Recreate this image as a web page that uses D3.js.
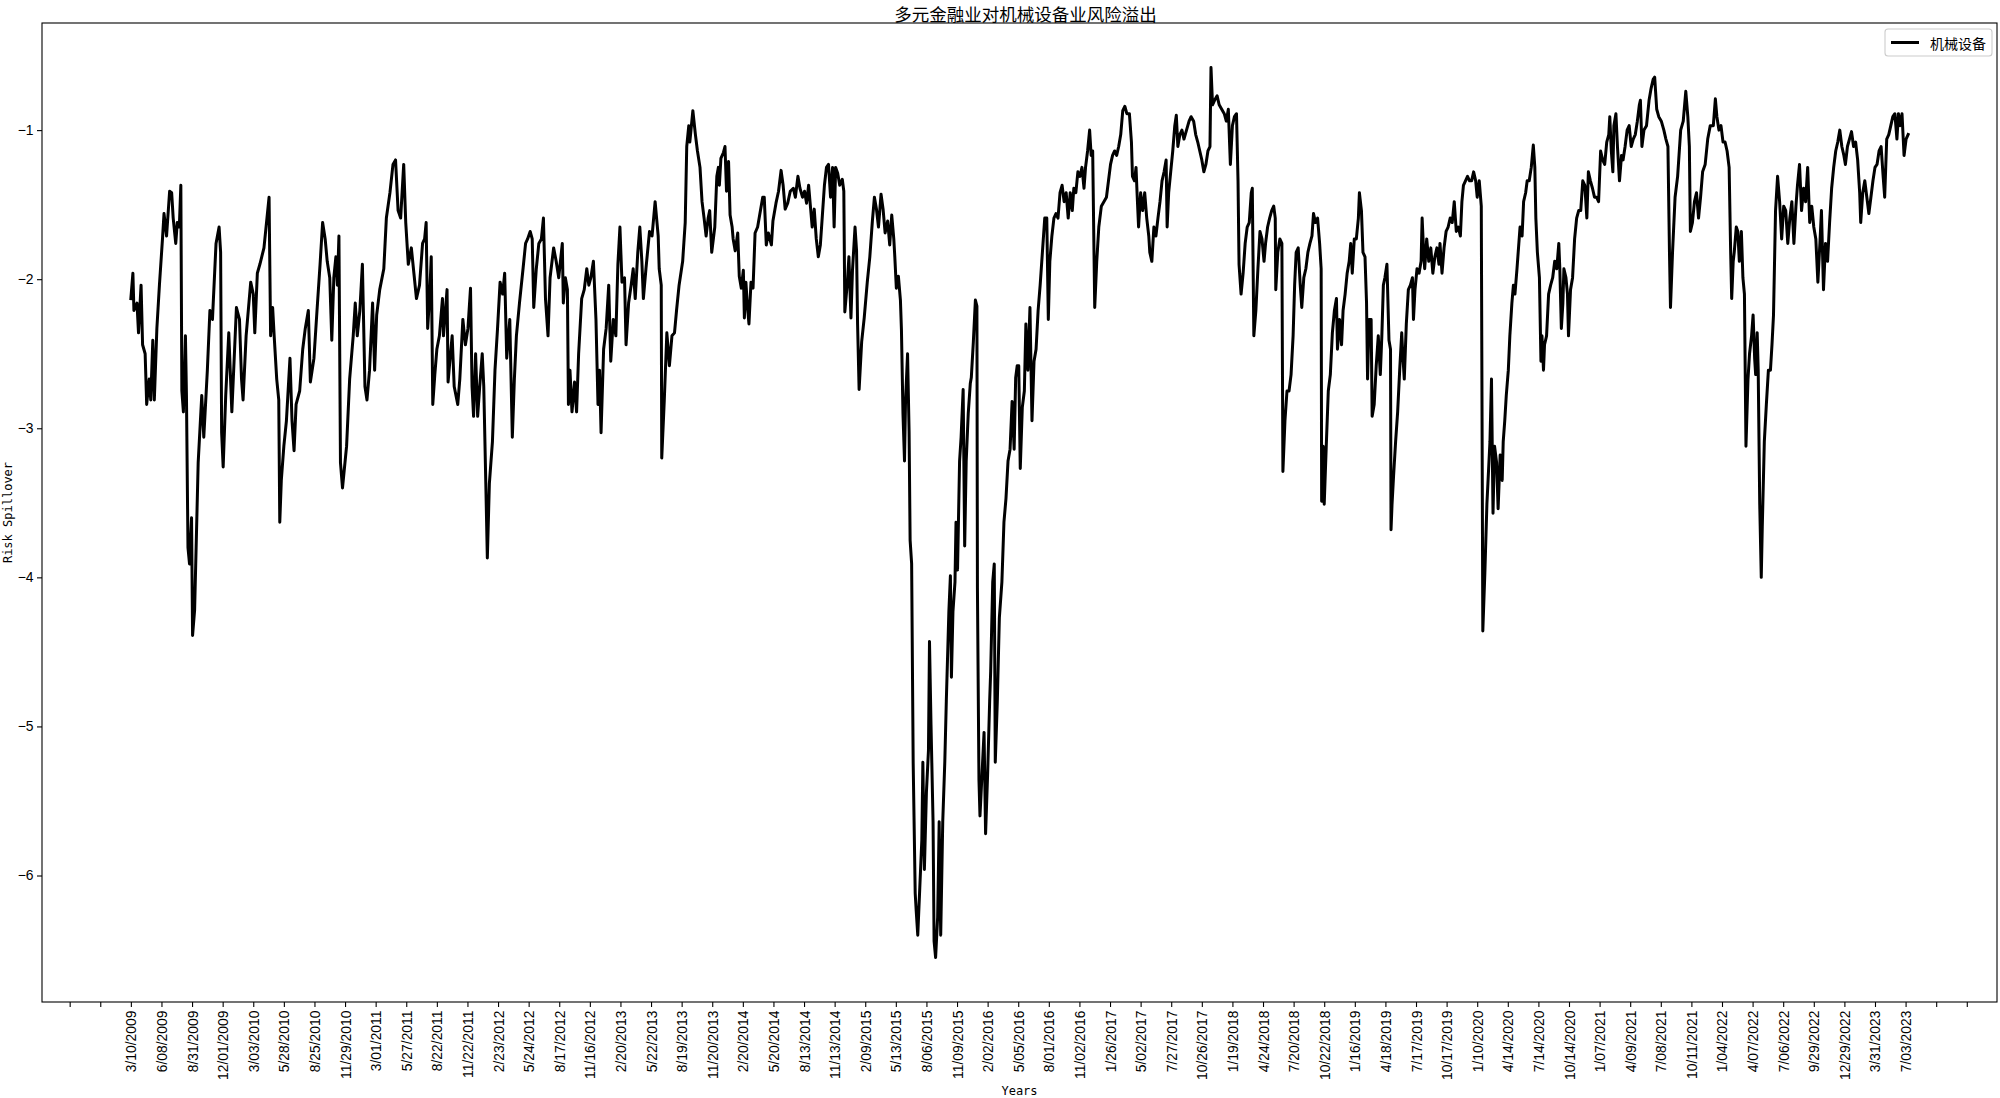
<!DOCTYPE html>
<html><head><meta charset="utf-8">
<script src="https://cdn.jsdelivr.net/npm/d3@7"></script>
<style>body{margin:0;background:#fff}svg{display:block}</style>
</head><body><svg id="c" width="2000" height="1098"></svg>
<script>
const titleText = "多元金融业对机械设备业风险溢出";
const seriesName = "机械设备";
const xLabel = "Years";
const yLabel = "Risk Spillover";

// trading-day index of each sampled point
const dayIndex = [0,4,6,12,15,20,23,28,31,36,39,43,46,51,56,62,65,70,76,80,83,88,91,95,98,100,103,107,109,112,115,119,121,125,132,139,143,150,155,160,167,173,176,178,181,186,192,198,207,213,217,220,226,235,240,243,248,253,261,271,274,278,281,286,290,292,295,300,305,312,316,320,324,331,337,342,348,352,359,365,371,376,381,385,390,394,398,402,405,408,411,415,423,429,436,440,444,449,454,459,463,468,474,478,482,488,496,501,508,514,519,524,529,535,539,544,550,555,560,
566,572,576,579,582,586,589,592,596,600,605,611,613,620,622,626,630,634,641,645,651,656,661,666,669,672,676,680,684,689,692,696,699,703,709,714,719,724,729,733,737,743,748,752,756,762,769,774,778,783,787,790,795,800,805,809,813,818,822,829,834,839,846,848,852,856,858,861,865,870,874,878,884,889,894,898,902,907,912,916,919,922,927,932,937,941,946,951,955,959,963,968,971,976,981,985,989,994,998,1002,1005,1010,1017,1022,1028,1034,1036,1040,1041,1046,1051,1056,1061,1066,1070,1075,1082,1087,1090,1094,1096,1102,1107,1111,1116,1120,1124,1128,1132,1135,1139,1145,1149,1152,
1154,1157,1162,1165,1168,1172,1175,1179,1181,1185,1190,1193,1197,1201,1203,1206,1209,1212,1216,1220,1224,1229,1233,1239,1242,1246,1250,1256,1259,1265,1270,1275,1279,1283,1288,1293,1299,1303,1308,1312,1317,1321,1325,1329,1333,1336,1340,1344,1348,1352,1356,1360,1364,1368,1372,1376,1379,1382,1386,1390,1395,1398,1400,1405,1408,1412,1415,1420,1423,1425,1428,1433,1438,1444,1449,1454,1458,1462,1466,1471,1475,1479,1484,1488,1492,1496,1498,1501,1505,1509,1511,1514,1517,1519,1523,1526,1528,1531,1534,1538,1540,1543,1547,1551,1553,1556,1560,1564,1566,1569,1573,1575,1578,1582,1585,1588,1592,1596,1599,1604,1607,1609,1612,1616,1618,1621,1625,1628,1632,1635,1638,1642,1646,1648,1652,1656,1659,1660,1663,1665,1669,1673,1676,1680,1684,1686,1690,1693,1695,1699,1703,1708,1712,1716,1720,1724,1728,1732,1735,1738,
1741,1744,1748,1752,1755,1759,1763,1767,1771,1775,1779,1783,1788,1792,1796,1799,1802,1806,1810,1814,1818,1822,1826,1830,1834,1838,1842,1846,1849,1853,1857,1861,1865,1869,1872,1876,1880,1883,1886,1890,1894,1898,1903,1908,1913,1917,1921,1925,1929,1933,1937,1941,1945,1949,1953,1958,1962,1964,1968,1971,1973,1976,1980,1984,1988,1992,1996,1998,2002,2006,2010,2014,2018,2022,2026,2030,2032,2035,2039,2043,2047,2050,2053,2057,2061,2065,2070,2075,2079,2084,2088,2092,2096,2100,2104,2108,2112,2116,2118,2121,2125,2130,2134,2139,2144,2148,2152,2156,2160,2164,2168,2171,2173,2177,2181,2185,2189,2193,2197,2199,2202,2206,2210,2214,2218,2222,2225,2229,2233,2237,2241,2244,2245,2249,2253,2257,2259,2263,2267,2271,2275,2279,2282,2285,2289,2293,2296,2300,2304,2308,2312,2316,2319,2323,2327,
2331,2334,2335,2338,2340,2344,2348,2352,2356,2360,2364,2366,2370,2374,2377,2381,2385,2389,2392,2395,2399,2403,2407,2409,2413,2416,2420,2423,2425,2428,2432,2434,2438,2442,2446,2450,2453,2456,2459,2463,2467,2470,2471,2473,2476,2480,2484,2488,2492,2494,2497,2501,2505,2509,2513,2515,2518,2522,2526,2530,2532,2535,2537,2541,2545,2549,2553,2557,2561,2565,2567,2571,2575,2579,2583,2587,2591,2595,2599,2603,2607,2610,2613,2617,2621,2625,2629,2633,2637,2640,2644,2648,2651,2655,2659,2661,2665,2668,2671,2674,2678,2681,2685,2689,2691,2694,2697,2701,2704,2708,2711,2714,2718,2721,2724,2728,2731,2735,2738,2742,2746,2750,2753,2755,2758,2762,2765,2767,2770,2772,2776,2780,2784,2788,2792,2796,2800,2802,2805,2808,2810,2814,2817,2819,2823,2827,2831,2835,2839,2843,2847,2851,2855,2858,2862,2866,2870,2874,2878,2882,2886,2890,2894,2898,2900,2903,2906,2908,2912,2915,
2919,2923,2926,2930,2934,2938,2942,2946,2950,2954,2958,2960,2963,2967,2972,2977,2981,2985,2988,2992,2996,3001,3006,3010,3014,3017,3019,3023,3028,3033,3039,3044,3049,3053,3056,3058,3062,3066,3070,3074,3078,3082,3087,3092,3097,3103,3107,3110,3114,3118,3122,3126,3130,3134,3137,3139,3142,3144,3148,3151,3154,3158,3161,3164,3167,3171,3174,3178,3181,3184,3186,3189,3191,3194,3197,3199,3203,3207,3211,3215,3218,3221,3225,3229,3233,3237,3241,3245,3249,3253,3257,3261,3265,3268,3272,3276,3280,3284,3288,3292,3296,3300,3304,3308,3312,3315,3319,3323,3327,3331,3335,3339,3343,3347,3351,3355,3359,3362,3366,3370,3374,3378,3382,3386,3390,3392,3396,3400,3404,3408,3412,3416,3420,3424,3428,3432,3436,3439,3443,3447,3451,3455,3459,3463,3466,3469,3473,3477,3481,3485];

// risk spillover value at each sampled point
const spillover = [-2.13,-1.96,-2.21,-2.16,-2.36,-2.04,-2.44,-2.50,-2.84,-2.67,-2.81,-2.41,-2.81,-2.33,-2.04,-1.73,-1.56,-1.71,-1.41,-1.42,-1.59,-1.76,-1.62,-1.65,-1.37,-2.75,-2.89,-2.38,-2.78,-3.80,-3.91,-3.60,-4.39,-4.22,-3.23,-2.78,-3.06,-2.61,-2.21,-2.27,-1.76,-1.65,-1.82,-3.03,-3.26,-2.78,-2.36,-2.89,-2.19,-2.27,-2.67,-2.81,-2.38,-2.02,-2.10,-2.36,-1.96,-1.90,-1.79,-1.45,-2.38,-2.19,-2.38,-2.67,-2.81,-3.63,-3.35,-3.12,-2.95,-2.53,-2.95,-3.15,-2.84,-2.75,-2.47,-2.33,-2.21,-2.69,-2.53,-2.21,-1.90,-1.62,-1.73,-1.88,-1.99,-2.41,-1.99,-1.85,-2.04,-1.71,-3.23,-3.40,-3.12,-2.67,-2.38,-2.16,-2.38,-2.21,-1.90,-2.72,-2.81,-2.61,-2.16,-2.61,-2.24,-2.07,-1.93,-1.59,-1.42,-1.23,-1.20,-1.54,-1.59,-1.23,-1.62,-1.90,-1.79,-1.96,-2.13,
-2.04,-1.76,-1.73,-1.62,-2.33,-2.10,-1.85,-2.84,-2.64,-2.47,-2.38,-2.13,-2.38,-2.07,-2.69,-2.53,-2.38,-2.72,-2.84,-2.67,-2.27,-2.44,-2.33,-2.06,-2.72,-2.92,-2.50,-2.92,-2.72,-2.50,-2.72,-3.37,-3.87,-3.37,-3.09,-2.61,-2.33,-2.02,-2.10,-1.96,-2.53,-2.27,-3.06,-2.67,-2.38,-2.16,-1.93,-1.76,-1.73,-1.68,-1.73,-2.19,-1.93,-1.76,-1.73,-1.59,-2.13,-2.38,-1.99,-1.79,-1.88,-1.99,-1.76,-2.16,-1.99,-2.07,-2.84,-2.61,-2.89,-2.69,-2.89,-2.50,-2.13,-2.07,-1.93,-2.04,-1.99,-1.88,-2.27,-2.84,-2.61,-3.03,-2.47,-2.33,-2.04,-2.55,-2.27,-2.38,-1.90,-1.65,-2.02,-1.99,-2.44,-2.16,-2.04,-1.93,-2.13,-1.82,-1.65,-1.88,-2.13,-1.93,-1.68,-1.71,-1.48,-1.71,-1.93,-2.04,-3.20,-2.81,-2.36,-2.58,-2.38,-2.36,-2.21,-2.04,-1.88,-1.62,-1.11,-0.97,-1.08,-0.87,-1.03,-1.14,-1.25,-1.48,-1.59,-1.71,-1.59,-1.54,-1.82,-1.65,-1.31,-1.25,
-1.37,-1.19,-1.15,-1.11,-1.41,-1.21,-1.57,-1.65,-1.73,-1.81,-1.69,-1.98,-2.06,-1.94,-2.26,-2.02,-2.18,-2.30,-2.02,-2.06,-1.69,-1.65,-1.57,-1.45,-1.45,-1.77,-1.69,-1.77,-1.61,-1.49,-1.41,-1.27,-1.37,-1.53,-1.49,-1.41,-1.39,-1.45,-1.31,-1.39,-1.45,-1.41,-1.49,-1.37,-1.53,-1.65,-1.53,-1.73,-1.85,-1.77,-1.57,-1.37,-1.25,-1.23,-1.45,-1.25,-1.65,-1.25,-1.29,-1.37,-1.33,-1.41,-2.22,-2.02,-1.85,-2.26,-1.94,-1.65,-1.81,-2.30,-2.74,-2.42,-2.26,-2.02,-1.85,-1.61,-1.45,-1.53,-1.65,-1.43,-1.53,-1.69,-1.61,-1.77,-1.57,-1.73,-1.85,-2.06,-1.98,-2.14,-2.34,-2.90,-3.22,-2.82,-2.50,-3.02,-3.75,-3.91,-5.24,-6.12,-6.24,-6.40,-6.08,-5.76,-5.24,-5.96,-5.44,-5.16,-4.43,-4.99,-5.64,-6.44,-6.55,-6.28,-5.64,-6.40,-5.64,-5.24,-4.83,-4.23,-3.99,-4.67,-4.23,-4.03,-3.63,-3.95,-3.22,-3.06,-2.74,-3.79,-3.22,-2.90,-2.70,-2.66,-2.42,-2.14,-2.18,-4.07,-5.36,-5.60,-5.32,-5.04,-5.72,-5.32,-4.83,-4.63,-4.03,-3.91,-5.24,-4.83,-4.27,-4.03,-3.63,-3.47,-3.22,-3.14,-2.82,-3.14,-2.66,-2.58,
-2.58,-3.27,-2.86,-2.75,-2.30,-2.61,-2.19,-2.95,-2.55,-2.47,-2.21,-2.04,-1.79,-1.59,-1.59,-2.27,-1.88,-1.71,-1.59,-1.56,-1.59,-1.42,-1.37,-1.48,-1.42,-1.59,-1.42,-1.54,-1.39,-1.42,-1.28,-1.31,-1.25,-1.39,-1.25,-1.14,-1.00,-1.17,-1.14,-2.19,-1.88,-1.65,-1.51,-1.48,-1.45,-1.34,-1.23,-1.17,-1.14,-1.17,-1.11,-1.03,-0.87,-0.84,-0.89,-0.89,-1.08,-1.31,-1.34,-1.25,-1.42,-1.65,-1.42,-1.54,-1.42,-1.59,-1.71,-1.82,-1.88,-1.65,-1.71,-1.59,-1.48,-1.34,-1.28,-1.20,-1.65,-1.42,-1.28,-1.14,-0.97,-0.90,-1.11,-1.03,-1.00,-1.06,-1.00,-0.94,-0.91,-0.94,-1.03,-1.08,-1.14,-1.20,-1.28,-1.23,-1.14,-1.11,-0.58,-0.83,-0.80,-0.77,-0.83,-0.86,-0.89,-0.94,-0.86,-1.23,-0.97,-0.91,-0.89,-1.34,-1.90,-2.10,-1.96,-1.76,-1.65,-1.62,-1.42,-1.39,-2.38,-2.21,-1.93,-1.68,-1.73,-1.88,-1.76,-1.65,-1.59,-1.54,-1.51,-1.59,-2.07,-1.82,-1.73,-1.76,-3.29,-2.95,-2.75,-2.75,-2.64,-2.38,-2.04,-1.82,-1.79,-2.04,-2.19,-1.99,-1.93,-1.82,-1.76,-1.71,-1.56,-1.62,-1.59,
-1.76,-1.93,-3.49,-3.12,-3.51,-3.12,-2.75,-2.64,-2.36,-2.21,-2.13,-2.47,-2.27,-2.44,-2.21,-2.10,-1.96,-1.88,-1.76,-1.96,-1.73,-1.73,-1.59,-1.42,-1.54,-1.82,-1.85,-2.16,-2.67,-2.27,-2.27,-2.92,-2.84,-2.58,-2.38,-2.64,-2.38,-2.04,-1.99,-1.90,-2.41,-2.47,-3.68,-3.51,-3.32,-3.09,-2.89,-2.61,-2.36,-2.50,-2.67,-2.30,-2.07,-2.04,-1.99,-2.27,-2.07,-1.93,-1.96,-1.88,-1.59,-1.82,-1.93,-1.73,-1.88,-1.79,-1.96,-1.85,-1.79,-1.90,-1.76,-1.96,-1.79,-1.68,-1.65,-1.59,-1.62,-1.48,-1.68,-1.65,-1.71,-1.48,-1.37,-1.34,-1.31,-1.34,-1.34,-1.28,-1.34,-1.45,-1.34,-1.51,-4.36,-3.97,-3.51,-3.37,-3.09,-2.67,-3.57,-3.12,-3.23,-3.54,-3.18,-3.35,-3.09,-2.95,-2.78,-2.61,-2.38,-2.16,-2.04,-2.10,-1.93,-1.79,-1.65,-1.71,-1.48,-1.42,-1.34,-1.34,-1.25,-1.10,-1.25,-1.59,-1.82,-1.99,-2.55,-2.38,-2.61,-2.44,-2.38,-2.10,-2.04,-1.99,-1.88,-1.93,-1.76,-1.93,-2.33,-2.16,-1.93,-1.99,-2.10,-2.38,-2.07,-1.99,-1.73,-1.59,-1.54,-1.54,-1.34,-1.37,-1.59,-1.28,-1.34,-1.39,-1.45,-1.45,-1.48,-1.14,-1.20,-1.23,-1.08,-1.03,-0.91,-1.14,-1.28,-0.97,-0.89,-1.11,
-1.34,-1.17,-1.20,-1.11,-1.00,-0.97,-1.11,-1.06,-1.03,-0.94,-0.83,-0.80,-1.11,-1.00,-0.97,-0.80,-0.72,-0.66,-0.645,-0.86,-0.91,-0.94,-1.00,-1.06,-1.11,-1.82,-2.19,-1.82,-1.45,-1.31,-1.00,-0.94,-0.74,-0.91,-1.11,-1.68,-1.62,-1.48,-1.42,-1.59,-1.45,-1.28,-1.23,-1.06,-0.97,-0.97,-0.79,-0.91,-1.00,-0.97,-1.08,-1.08,-1.14,-1.25,-1.82,-2.13,-1.88,-1.82,-1.65,-1.68,-1.88,-1.68,-1.99,-2.10,-3.12,-2.67,-2.50,-2.38,-2.24,-2.53,-2.64,-2.36,-2.61,-3.51,-4.00,-3.66,-3.09,-2.84,-2.61,-2.61,-2.44,-2.24,-1.54,-1.31,-1.48,-1.73,-1.51,-1.54,-1.76,-1.59,-1.48,-1.76,-1.51,-1.37,-1.23,-1.54,-1.39,-1.48,-1.25,-1.62,-1.51,-1.65,-1.73,-2.02,-1.76,-1.54,-2.07,-1.76,-1.88,-1.62,-1.39,-1.25,-1.14,-1.08,-1.00,-1.11,-1.17,-1.23,-1.11,-1.06,-1.01,-1.11,-1.08,-1.20,-1.42,-1.62,-1.42,-1.34,-1.45,-1.56,-1.45,-1.34,-1.25,-1.23,-1.14,-1.11,-1.31,-1.45,-1.06,-1.03,-0.97,-0.91,-0.89,-1.06,-0.89,-0.97,-0.89,-1.17,-1.06,-1.03];

// labels of the x ticks, one every 60 trading days starting at index 0
const tickLabels = ["3/10/2009","6/08/2009","8/31/2009","12/01/2009","3/03/2010","5/28/2010","8/25/2010","11/29/2010","3/01/2011","5/27/2011","8/22/2011","11/22/2011","2/23/2012","5/24/2012","8/17/2012","11/16/2012","2/20/2013","5/22/2013","8/19/2013","11/20/2013","2/20/2014","5/20/2014","8/13/2014","11/13/2014","2/09/2015","5/13/2015","8/06/2015","11/09/2015","2/02/2016","5/05/2016","8/01/2016","11/02/2016","1/26/2017","5/02/2017","7/27/2017","10/26/2017","1/19/2018","4/24/2018","7/20/2018","10/22/2018","1/16/2019","4/18/2019","7/17/2019","10/17/2019","1/10/2020","4/14/2020","7/14/2020","10/14/2020","1/07/2021","4/09/2021","7/08/2021","10/11/2021","1/04/2022","4/07/2022","7/06/2022","9/29/2022","12/29/2022","3/31/2023","7/03/2023"];
const tickStep = 60;
const yTickValues = [-6,-5,-4,-3,-2,-1];

const W = 2000, H = 1098;
const M = {left: 42, right: 3, top: 23, bottom: 96};
const svg = d3.select("#c");
const pw = W - M.left - M.right, ph = H - M.top - M.bottom;

const data = dayIndex.map((d, i) => ({x: d, y: spillover[i]}));
const [x0, x1] = d3.extent(dayIndex);
const xPad = (x1 - x0) * 0.05;
const [y0, y1] = d3.extent(spillover);
const yPad = (y1 - y0) * 0.05;

const x = d3.scaleLinear().domain([x0 - xPad, x1 + xPad]).range([M.left, M.left + pw]);
const y = d3.scaleLinear().domain([y0 - yPad, y1 + yPad]).range([M.top + ph, M.top]);

const tickFont = "'Liberation Sans', Arial, sans-serif";
const cjkFont = "'Noto Sans CJK SC', sans-serif";
const monoFont = "'DejaVu Sans Mono', monospace";

// x ticks
const xt = [];
for (let t = Math.ceil(x.domain()[0] / tickStep) * tickStep; t <= x.domain()[1]; t += tickStep) xt.push(t);
const xAxis = d3.axisBottom(x).tickValues(xt).tickSize(5).tickPadding(3.5)
  .tickFormat(t => (t >= 0 && t / tickStep < tickLabels.length) ? tickLabels[t / tickStep] : "");
const gx = svg.append("g").attr("transform", `translate(0,${M.top + ph})`).call(xAxis);
gx.select(".domain").remove();
gx.selectAll(".tick line").attr("stroke", "#000").attr("stroke-width", 1.1);
gx.selectAll(".tick text")
  .attr("font-family", tickFont).attr("font-size", 13.9).attr("fill", "#000")
  .attr("text-anchor", "end").attr("dy", null).attr("y", null)
  .attr("transform", "translate(0,8.5) rotate(-90)")
  .attr("dominant-baseline", "central");

// y ticks
const yAxis = d3.axisLeft(y).tickValues(yTickValues).tickSize(5).tickPadding(3.5)
  .tickFormat(v => String(v).replace("-", "\u2212"));
const gy = svg.append("g").attr("transform", `translate(${M.left},0)`).call(yAxis);
gy.select(".domain").remove();
gy.selectAll(".tick line").attr("stroke", "#000").attr("stroke-width", 1.1);
gy.selectAll(".tick text").attr("font-family", tickFont).attr("font-size", 13.9).attr("fill", "#000");

// line
svg.append("path").datum(data)
  .attr("fill", "none").attr("stroke", "#000").attr("stroke-width", 3)
  .attr("stroke-linejoin", "round").attr("stroke-linecap", "square")
  .attr("d", d3.line().x(d => x(d.x)).y(d => y(d.y)));

// frame
svg.append("rect").attr("x", M.left).attr("y", M.top).attr("width", pw).attr("height", ph)
  .attr("fill", "none").attr("stroke", "#000").attr("stroke-width", 1.1);

// title
svg.append("text").attr("x", M.left + pw / 2 + 6).attr("y", 20.5)
  .attr("text-anchor", "middle").attr("font-family", cjkFont).attr("font-size", 17.5)
  .attr("fill", "#000").text(titleText);

// axis labels
svg.append("text").attr("x", M.left + pw / 2).attr("y", H - 3)
  .attr("text-anchor", "middle").attr("font-family", monoFont).attr("font-size", 12)
  .attr("fill", "#000").text(xLabel);
svg.append("text").attr("transform", `translate(12,${M.top + ph / 2}) rotate(-90)`)
  .attr("text-anchor", "middle").attr("font-family", monoFont).attr("font-size", 12)
  .attr("fill", "#000").text(yLabel);

// legend
const lg = svg.append("g");
lg.append("rect").attr("x", 1885).attr("y", 29).attr("width", 107).attr("height", 27).attr("rx", 3)
  .attr("fill", "#fff").attr("fill-opacity", 0.8).attr("stroke", "#cccccc").attr("stroke-width", 1.1);
lg.append("line").attr("x1", 1891).attr("x2", 1919).attr("y1", 42.5).attr("y2", 42.5)
  .attr("stroke", "#000").attr("stroke-width", 3);
lg.append("text").attr("x", 1930).attr("y", 42.5).attr("dominant-baseline", "central")
  .attr("font-family", cjkFont).attr("font-size", 14).attr("fill", "#000").text(seriesName);
</script>
</body></html>
